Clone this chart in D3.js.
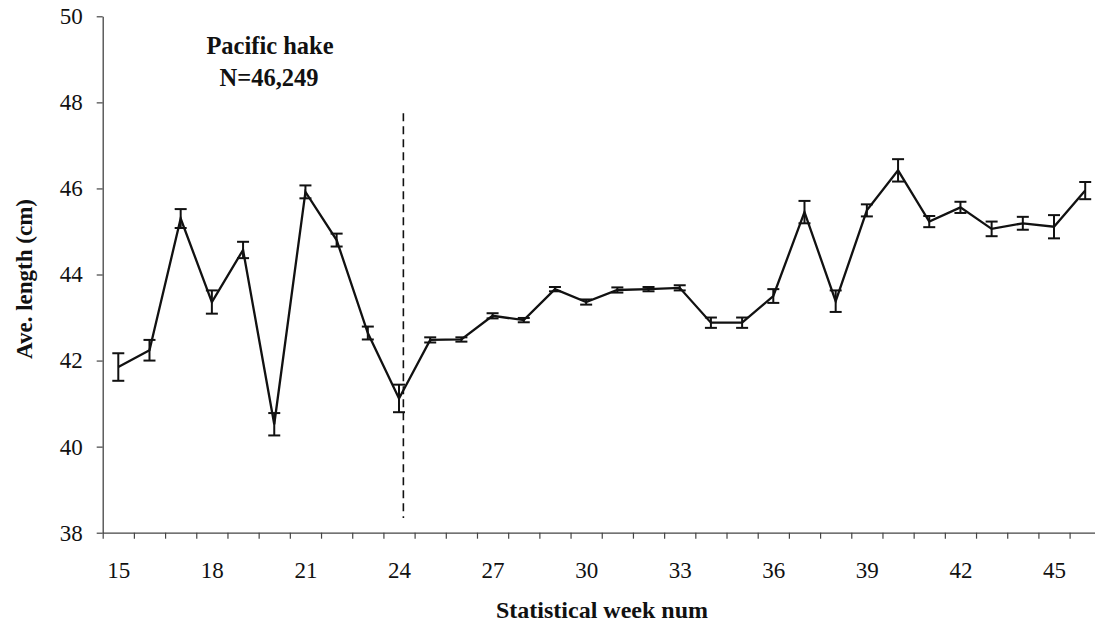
<!DOCTYPE html>
<html>
<head>
<meta charset="utf-8">
<script src="https://cdn.jsdelivr.net/npm/d3@7"></script>
<style>
  html, body { margin: 0; padding: 0; background: #fff; }
  svg { display: block; }
  text { font-family: "Liberation Serif", "Times New Roman", serif; fill: #111; }
</style>
</head>
<body>
<svg id="chart" width="1095" height="626"></svg>
<script>
// Statistical weeks and mean length (cm) with error half-widths
const weeks = [15,16,17,18,19,20,21,22,23,24,25,26,27,28,29,30,31,32,33,34,35,36,37,38,39,40,41,42,43,44,45,46];
const meanLength = [41.85,42.24,45.30,43.36,44.57,40.52,45.92,44.80,42.64,41.12,42.48,42.49,43.04,42.94,43.66,43.36,43.64,43.66,43.69,42.88,42.88,43.50,45.45,43.38,45.49,46.42,45.23,45.56,45.06,45.19,45.11,45.95];
const errHalf = [0.32,0.24,0.22,0.27,0.19,0.26,0.15,0.15,0.15,0.32,0.06,0.05,0.06,0.05,0.05,0.06,0.06,0.05,0.06,0.12,0.12,0.16,0.26,0.25,0.14,0.26,0.13,0.13,0.17,0.15,0.27,0.20];
const yTicks = [38,40,42,44,46,48,50];
const xLabelWeeks = [15,18,21,24,27,30,33,36,39,42,45];
const xBoundaries = d3.range(14.5, 46.5, 1);
const markerWeek = 24.14;          // position of the dashed reference line
const markerSpan = [38.34, 47.75]; // vertical extent of the dashed line
const titleLines = ["Pacific hake", "N=46,249"];

const svg = d3.select("#chart");

const x = d3.scaleLinear().domain([14.5, 46.5]).range([102.7, 1100.8]);
const y = d3.scaleLinear().domain([38, 50]).range([532.7, 16.3]);

// y axis
const yAxis = svg.append("g")
  .attr("transform", `translate(${x(14.5)},0)`)
  .call(d3.axisLeft(y).tickValues(yTicks).tickSize(6).tickPadding(14).tickSizeOuter(0));
yAxis.select(".domain").attr("stroke", "#444").attr("stroke-width", 1.3);
yAxis.selectAll(".tick line").attr("stroke", "#444").attr("stroke-width", 1.2);
yAxis.selectAll("text").attr("font-size", 23).attr("font-family", "Liberation Serif").attr("fill", "#111");

// x axis: tick marks between weeks
const xTickAxis = svg.append("g")
  .attr("transform", `translate(0,${y(38)})`)
  .call(d3.axisBottom(x).tickValues(xBoundaries).tickSize(6).tickFormat("").tickSizeOuter(0));
xTickAxis.select(".domain").attr("stroke", "#444").attr("stroke-width", 1.3);
xTickAxis.selectAll(".tick line").attr("stroke", "#444").attr("stroke-width", 1.2);

// x axis: week labels every third week
const xLabelAxis = svg.append("g")
  .attr("transform", `translate(0,${y(38)})`)
  .call(d3.axisBottom(x).tickValues(xLabelWeeks).tickSize(0).tickPadding(29).tickFormat(d3.format("d")));
xLabelAxis.select(".domain").remove();
xLabelAxis.selectAll("text").attr("font-size", 23).attr("font-family", "Liberation Serif").attr("fill", "#111");

// dashed reference line
svg.append("line")
  .attr("x1", x(markerWeek)).attr("x2", x(markerWeek))
  .attr("y1", y(markerSpan[1])).attr("y2", y(markerSpan[0]))
  .attr("stroke", "#111").attr("stroke-width", 1.6)
  .attr("stroke-dasharray", "8,5");

const data = weeks.map((w, i) => ({ w, m: meanLength[i], e: errHalf[i] }));

// error bars
const capHalf = 6;
const eb = svg.append("g").attr("stroke", "#111").attr("stroke-width", 2);
eb.selectAll("line.v").data(data).join("line").attr("class", "v")
  .attr("x1", d => x(d.w)).attr("x2", d => x(d.w))
  .attr("y1", d => y(d.m + d.e)).attr("y2", d => y(d.m - d.e));
eb.selectAll("line.t").data(data).join("line").attr("class", "t")
  .attr("x1", d => x(d.w) - capHalf).attr("x2", d => x(d.w) + capHalf)
  .attr("y1", d => y(d.m + d.e)).attr("y2", d => y(d.m + d.e));
eb.selectAll("line.b").data(data).join("line").attr("class", "b")
  .attr("x1", d => x(d.w) - capHalf).attr("x2", d => x(d.w) + capHalf)
  .attr("y1", d => y(d.m - d.e)).attr("y2", d => y(d.m - d.e));

// mean line
svg.append("path")
  .datum(data)
  .attr("fill", "none")
  .attr("stroke", "#111")
  .attr("stroke-width", 2.3)
  .attr("stroke-linejoin", "miter")
  .attr("d", d3.line().x(d => x(d.w)).y(d => y(d.m)));

// title
svg.append("text").attr("x", 270).attr("y", 54).attr("text-anchor", "middle")
  .attr("font-size", 24.5).attr("font-weight", "bold").text(titleLines[0]);
svg.append("text").attr("x", 269).attr("y", 86).attr("text-anchor", "middle")
  .attr("font-size", 24.5).attr("font-weight", "bold").text(titleLines[1]);

// axis titles
svg.append("text").attr("x", 602).attr("y", 618).attr("text-anchor", "middle")
  .attr("font-size", 24).attr("font-weight", "bold").text("Statistical week num");
svg.append("text")
  .attr("transform", "translate(32,279) rotate(-90)")
  .attr("text-anchor", "middle")
  .attr("font-size", 23).attr("font-weight", "bold").text("Ave. length (cm)");
</script>
</body>
</html>
